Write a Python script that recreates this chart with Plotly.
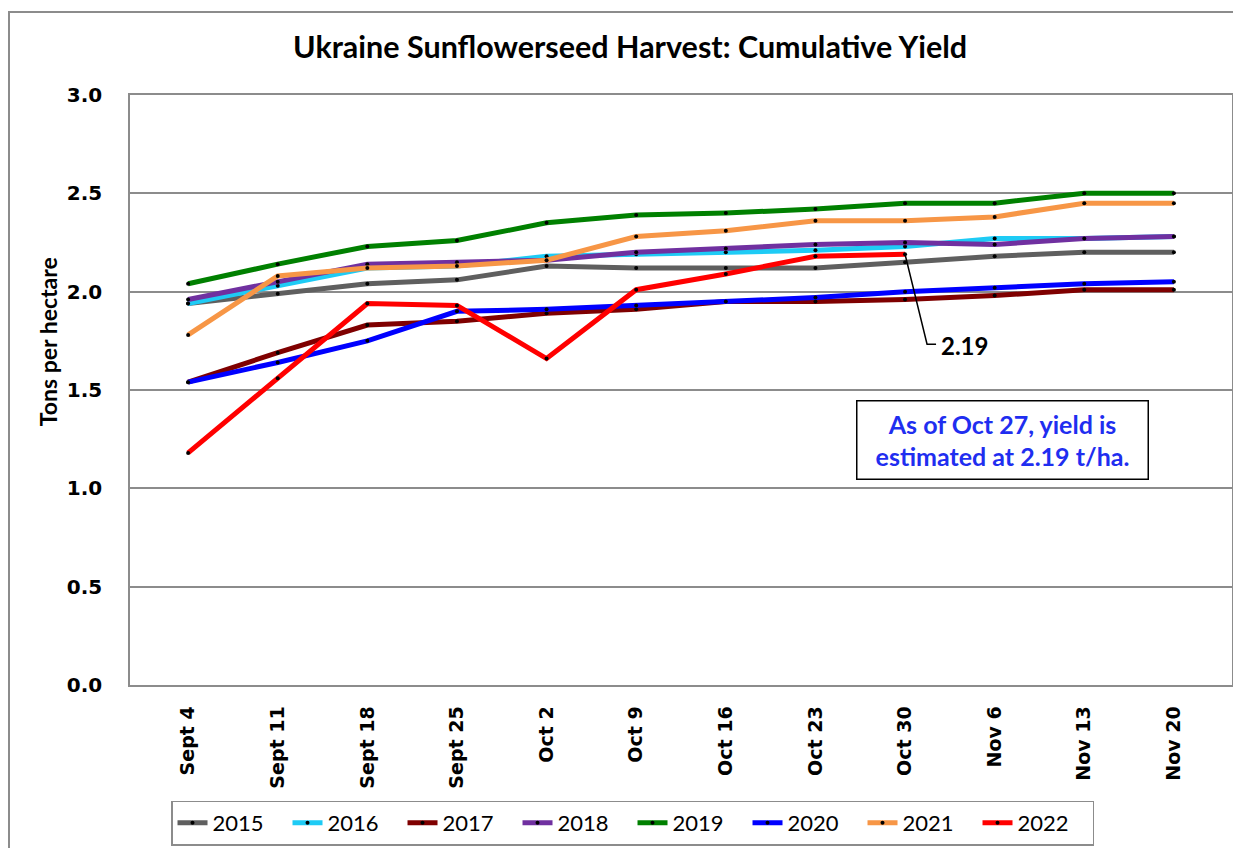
import plotly.graph_objects as go

categories = ["Sept 4", "Sept 11", "Sept 18", "Sept 25", "Oct 2", "Oct 9",
              "Oct 16", "Oct 23", "Oct 30", "Nov 6", "Nov 13", "Nov 20"]

y2015 = [1.94, 1.99, 2.04, 2.06, 2.13, 2.12, 2.12, 2.12, 2.15, 2.18, 2.20, 2.20]
y2016 = [1.94, 2.03, 2.12, 2.13, 2.18, 2.19, 2.20, 2.21, 2.23, 2.27, 2.27, 2.28]
y2017 = [1.54, 1.69, 1.83, 1.85, 1.89, 1.91, 1.95, 1.95, 1.96, 1.98, 2.01, 2.01]
y2018 = [1.96, 2.05, 2.14, 2.15, 2.16, 2.20, 2.22, 2.24, 2.25, 2.24, 2.27, 2.28]
y2019 = [2.04, 2.14, 2.23, 2.26, 2.35, 2.39, 2.40, 2.42, 2.45, 2.45, 2.50, 2.50]
y2020 = [1.54, 1.64, 1.75, 1.90, 1.91, 1.93, 1.95, 1.97, 2.00, 2.02, 2.04, 2.05]
y2021 = [1.78, 2.08, 2.12, 2.13, 2.16, 2.28, 2.31, 2.36, 2.36, 2.38, 2.45, 2.45]
y2022 = [1.18, 1.56, 1.94, 1.93, 1.66, 2.01, 2.09, 2.18, 2.19, None, None, None]

series_names = ["2015", "2016", "2017", "2018", "2019", "2020", "2021", "2022"]
series_values = [y2015, y2016, y2017, y2018, y2019, y2020, y2021, y2022]
series_colors = ["#5f5f5f", "#1ecbf5", "#7f0000", "#7030a0", "#008000",
                 "#0000ff", "#f79646", "#ff0000"]

y_ticks = [0.0, 0.5, 1.0, 1.5, 2.0, 2.5, 3.0]

NARROW = "Lato, Open Sans, Liberation Sans, Arial"
WIDE = "DejaVu Sans, Verdana, sans-serif"

fig = go.Figure()
for name, vals, col in zip(series_names, series_values, series_colors):
    fig.add_trace(go.Scatter(
        x=categories, y=vals, name=name, mode="lines+markers",
        line=dict(color=col, width=5),
        marker=dict(color="black", size=4),
        connectgaps=False,
    ))

last_idx = 8
last_val = y2022[last_idx]

# leader line for the 2.19 label
fig.add_shape(type="path", xref="x", yref="y",
              xsizemode="pixel", ysizemode="pixel",
              xanchor=last_idx, yanchor=last_val,
              path="M0,0 L22,-90 L31,-90",
              line=dict(color="black", width=1.5))
fig.add_annotation(x=last_idx, y=last_val, xref="x", yref="y",
                   text=f"<b>{last_val:.2f}</b>", showarrow=False,
                   xanchor="left", yanchor="middle", xshift=34, yshift=-91,
                   font=dict(family=NARROW, size=24, color="black"))

# note box
fig.add_annotation(x=0.7913, y=0.4153, xref="paper", yref="paper",
                   text=f"<b>As of Oct 27, yield is<br>estimated at {last_val:.2f} t/ha.</b>",
                   showarrow=False, xanchor="center", yanchor="middle",
                   width=288, height=75, align="center",
                   bordercolor="black", borderwidth=1.5, bgcolor="white",
                   font=dict(family=NARROW, size=25, color="#1f2ef0"))

# y axis title
fig.add_annotation(x=-0.0744, y=0.581, xref="paper", yref="paper",
                   text="<b>Tons per hectare</b>", textangle=-90, showarrow=False,
                   xanchor="center", yanchor="middle",
                   font=dict(family=NARROW, size=23, color="black"))

# outer chart border
fig.add_shape(type="rect", xref="paper", yref="paper",
              x0=-0.1098, y0=1.1407, x1=1.05, y1=-0.5,
              line=dict(color="#8c8c8c", width=2), layer="below")

fig.update_layout(
    width=1233, height=840,
    margin=dict(l=122, r=9, t=87, b=163, autoexpand=False),
    paper_bgcolor="white", plot_bgcolor="white",
    title=dict(text="<b>Ukraine Sunflowerseed Harvest: Cumulative Yield</b>",
               x=0.5045, xanchor="center", y=0.9536, yanchor="middle",
               xref="container", yref="container",
               font=dict(family=NARROW, size=30.5, color="black")),
    showlegend=True,
    legend=dict(orientation="h", x=0.456, y=-0.234, xanchor="center",
                yanchor="middle", bordercolor="#8c8c8c", borderwidth=1.5,
                bgcolor="white", font=dict(family=NARROW, size=22, color="black"),
                itemwidth=30, entrywidth=70, entrywidthmode="pixels",
                tracegroupgap=0),
    xaxis=dict(type="category", categoryorder="array", categoryarray=categories,
               tickangle=-90, showgrid=False, showline=True, linecolor="#8c8c8c",
               linewidth=1.5, mirror=True, ticks="", ticklabelstandoff=12,
               automargin=False,
               tickfont=dict(family=WIDE, size=19, color="black", weight="bold")),
    yaxis=dict(range=[0, 3.0], tickvals=y_ticks,
               ticktext=[f"{v:.1f}" for v in y_ticks],
               showgrid=True, gridcolor="#8c8c8c", gridwidth=1.5,
               showline=True, linecolor="#8c8c8c", linewidth=1.5, mirror=True,
               zeroline=False, ticks="", ticklabelstandoff=22, automargin=False,
               tickfont=dict(family=WIDE, size=20, color="black", weight="bold")),
)

fig.write_html("out.html")
